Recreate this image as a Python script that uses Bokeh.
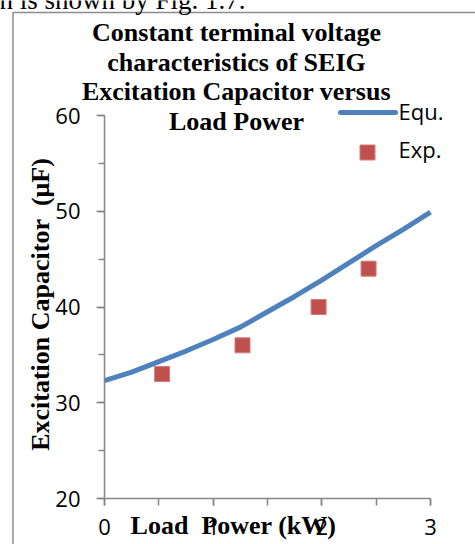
from bokeh.plotting import figure
from bokeh.models import Label, Range1d, FixedTicker, ColumnDataSource
from bokeh.embed import file_html
from bokeh.resources import INLINE
import math

# ---- data ----
equ_power = [0.0, 0.25, 0.5, 0.75, 1.0, 1.25, 1.5, 1.75, 2.0, 2.25, 2.5, 2.75, 3.0]
equ_cap = [32.3, 33.2, 34.3, 35.4, 36.6, 37.9, 39.5, 41.1, 42.8, 44.6, 46.4, 48.1, 49.9]
exp_power = [0.53, 1.27, 1.97, 2.43]
exp_cap = [33.0, 36.0, 40.0, 44.0]
x_ticks = [0, 1, 2, 3]
y_ticks = [20, 30, 40, 50, 60]
title_lines = ["Constant terminal voltage", "characteristics of SEIG",
               "Excitation Capacitor versus", "Load Power"]

W, H = 475, 544
# pixel positions of the plotting area (axis 0..3 horizontally, 20..60 vertically)
PX_L, PX_R, PX_T, PX_B = 104, 430, 115, 498
X0, X1, Y0, Y1 = 0, 3, 20, 60

def dx(px):
    return X0 + (px - PX_L) * (X1 - X0) / (PX_R - PX_L)

def dy(py):
    return Y0 + (PX_B - py) * (Y1 - Y0) / (PX_B - PX_T)

p = figure(width=W, height=H, output_backend="svg", toolbar_location=None,
           x_range=Range1d(dx(0), dx(W)), y_range=Range1d(dy(H), dy(0)),
           min_border_left=0, min_border_right=0, min_border_top=0, min_border_bottom=0)
p.outline_line_color = None
p.background_fill_color = "white"
p.border_fill_color = "white"
p.xgrid.visible = False
p.ygrid.visible = False

AX = "#868686"
TICKF = "Open Sans"
for ax in (p.xaxis[0], p.yaxis[0]):
    ax.axis_line_color = AX
    ax.axis_line_width = 1.5
    ax.major_tick_line_color = AX
    ax.minor_tick_line_color = AX
    ax.major_tick_line_width = 1.5
    ax.minor_tick_line_width = 1.5
    ax.major_tick_in = 0
    ax.minor_tick_in = 0
    ax.major_label_text_font = TICKF
    ax.major_label_text_font_size = "22px"
    ax.major_label_text_color = "black"
    ax.axis_label = None

p.xaxis[0].fixed_location = Y0
p.xaxis[0].bounds = (X0, X1)
p.yaxis[0].fixed_location = X0
p.yaxis[0].bounds = (Y0, Y1)
p.xaxis[0].ticker = FixedTicker(ticks=x_ticks, minor_ticks=[0.5 * i for i in range(7)])
p.yaxis[0].ticker = FixedTicker(ticks=y_ticks, minor_ticks=[20 + 5 * i for i in range(9)])
p.xaxis[0].major_tick_out = 7
p.xaxis[0].minor_tick_out = 7
p.xaxis[0].major_label_standoff = 13
p.yaxis[0].major_tick_out = 8
p.yaxis[0].minor_tick_out = 6
p.yaxis[0].major_label_standoff = 16

# outer chart border (top and left edges visible)
border = ColumnDataSource(dict(x=[dx(600), dx(12.5), dx(12.5)], y=[dy(12), dy(12), dy(700)]))
p.line("x", "y", source=border, line_color="#8c8c8c", line_width=1.5)

# data
p.line(equ_power, equ_cap, line_color="#4F81BD", line_width=5)
p.scatter(exp_power, exp_cap, marker="square", size=15,
          fill_color="#C0504D", line_color="#D27C7A", line_width=1)

SERIF = "Liberation Serif"
SH = 10   # baseline correction for serif texts (px)
SHS = 12  # baseline correction for sans texts (px)

# document text fragment at the top
p.add_layout(Label(x=dx(-1), y=dy(7 - SH + 2), text="n is shown by Fig. 1.7.", text_font=SERIF,
                   text_font_size="27px", text_align="left", text_baseline="alphabetic",
                   text_color="black"))

# title
for i, t in enumerate(title_lines):
    p.add_layout(Label(x=dx(236), y=dy(42 + 29.7 * i - SH), text=t, text_font=SERIF,
                       text_font_style="bold", text_font_size="26px",
                       text_align="center", text_baseline="alphabetic", text_color="black"))

# axis titles
p.add_layout(Label(x=dx(233), y=dy(535 - SH), text="Load\u00a0 Power (kW)", text_font=SERIF,
                   text_font_style="bold", text_font_size="26px",
                   text_align="center", text_baseline="alphabetic", text_color="black"))
p.add_layout(Label(x=dx(48 - 8), y=dy(304), text="Excitation Capacitor\u00a0 (\u03bcF)",
                   text_font=SERIF, text_font_style="bold", text_font_size="26px",
                   angle=math.pi / 2, text_align="center", text_baseline="alphabetic",
                   text_color="black"))

# legend
leg_line = ColumnDataSource(dict(x=[dx(340), dx(395)], y=[dy(112), dy(112)]))
p.line("x", "y", source=leg_line, line_color="#4F81BD", line_width=5, line_cap="round")
leg_sq = ColumnDataSource(dict(x=[dx(367)], y=[dy(152)]))
p.scatter("x", "y", source=leg_sq, marker="square", size=15,
          fill_color="#C0504D", line_color="#D27C7A", line_width=1)
for txt, yb in (("Equ.", 122), ("Exp.", 160)):
    p.add_layout(Label(x=dx(398), y=dy(yb - SHS), text=txt, text_font=TICKF,
                       text_font_size="22px", text_align="left",
                       text_baseline="alphabetic", text_color="black"))

html = file_html(p, INLINE)
open("out.html", "w").write(html)
